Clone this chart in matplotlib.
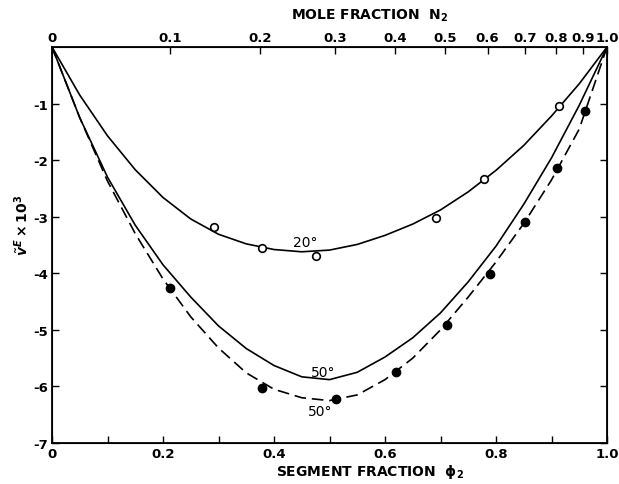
import matplotlib.pyplot as plt
import numpy as np

# segment fraction phi_2 grid for the drawn curves
phi_curve = [0.0, 0.05, 0.1, 0.15, 0.2, 0.25, 0.3, 0.35, 0.4, 0.45, 0.5,
             0.55, 0.6, 0.65, 0.7, 0.75, 0.8, 0.85, 0.9, 0.95, 1.0]
v20_curve = [0.0, -0.85, -1.57, -2.17, -2.66, -3.04, -3.31, -3.48, -3.58, -3.62, -3.59,
             -3.49, -3.33, -3.13, -2.88, -2.56, -2.18, -1.74, -1.22, -0.65, 0.0]
v50_curve = [0.0, -1.25, -2.3, -3.15, -3.85, -4.42, -4.93, -5.33, -5.63, -5.83, -5.88,
             -5.75, -5.48, -5.14, -4.7, -4.15, -3.52, -2.78, -1.96, -1.03, 0.0]
v50b_curve = [0.0, -1.25, -2.37, -3.3, -4.1, -4.77, -5.32, -5.76, -6.05, -6.2, -6.25,
              -6.15, -5.88, -5.5, -5.0, -4.42, -3.8, -3.12, -2.35, -1.45, 0.0]

# measured points
phi_open = [0.292, 0.379, 0.476, 0.691, 0.778, 0.913]
v_open = [-3.19, -3.55, -3.69, -3.02, -2.34, -1.05]
phi_filled = [0.213, 0.378, 0.511, 0.620, 0.711, 0.789, 0.852, 0.910, 0.960]
v_filled = [-4.26, -6.03, -6.23, -5.74, -4.91, -4.01, -3.10, -2.14, -1.13]

# top axis: mole fraction N2 ticks (positions in phi_2)
mole_ticks_phi = [0.0, 0.212, 0.375, 0.51, 0.618, 0.709, 0.785, 0.852, 0.908, 0.957, 1.0]
mole_labels = ["0", "0.1", "0.2", "0.3", "0.4", "0.5", "0.6", "0.7", "0.8", "0.9", "1.0"]

seg_ticks = [0.0, 0.2, 0.4, 0.6, 0.8, 1.0]
seg_labels = ["0", "0.2", "0.4", "0.6", "0.8", "1.0"]
y_ticks = [-1, -2, -3, -4, -5, -6, -7]
y_labels = ["-1", "-2", "-3", "-4", "-5", "-6", "-7"]

plt.rcParams["font.family"] = "DejaVu Sans"
plt.rcParams["font.weight"] = "bold"

fig = plt.figure(figsize=(6.19, 4.85), dpi=100)
ax = fig.add_axes([52 / 619, 1 - 444 / 485, 555 / 619, 396 / 485])

ax.plot(phi_curve, v20_curve, color="black", lw=1.2)
ax.plot(phi_curve, v50_curve, color="black", lw=1.2)
ax.plot(phi_curve, v50b_curve, color="black", lw=1.2, dashes=(7, 3.5))
ax.plot(phi_open, v_open, "o", ms=5.5, mfc="white", mec="black", mew=1.2)
ax.plot(phi_filled, v_filled, "o", ms=6, color="black")

ax.text(0.456, -3.45, "20°", ha="center", va="center", fontsize=10, fontweight="normal")
ax.text(0.488, -5.74, "50°", ha="center", va="center", fontsize=10, fontweight="normal")
ax.text(0.483, -6.43, "50°", ha="center", va="center", fontsize=10, fontweight="normal")

ax.set_xlim(0, 1)
ax.set_ylim(-7, 0)
ax.set_xticks(np.arange(0, 1.01, 0.1), minor=True)
ax.set_xticks(seg_ticks, seg_labels)
ax.set_yticks(y_ticks, y_labels)
ax.tick_params(direction="in", length=5, width=1.0, labelsize=9.5, right=True, pad=3)
ax.tick_params(which="minor", direction="in", length=5, width=1.0)
for s in ax.spines.values():
    s.set_linewidth(1.3)

top = ax.twiny()
top.set_xlim(0, 1)
top.set_xticks(mole_ticks_phi, mole_labels)
top.tick_params(direction="in", length=5, width=1.0, labelsize=9.5, pad=2)

fig.text(370 / 619, 1 - 16 / 485, "MOLE FRACTION  $\\mathbf{N_2}$", ha="center", va="center",
         fontsize=10)
fig.text(370 / 619, 1 - 472 / 485, "SEGMENT FRACTION  $\\mathbf{\\phi_2}$", ha="center",
         va="center", fontsize=10)
fig.text(22 / 619, 1 - 225 / 485, "$\\tilde{v}^{E}\\times10^{3}$", rotation=90,
         ha="center", va="center", fontsize=10)

fig.savefig("out.png", dpi=100)
